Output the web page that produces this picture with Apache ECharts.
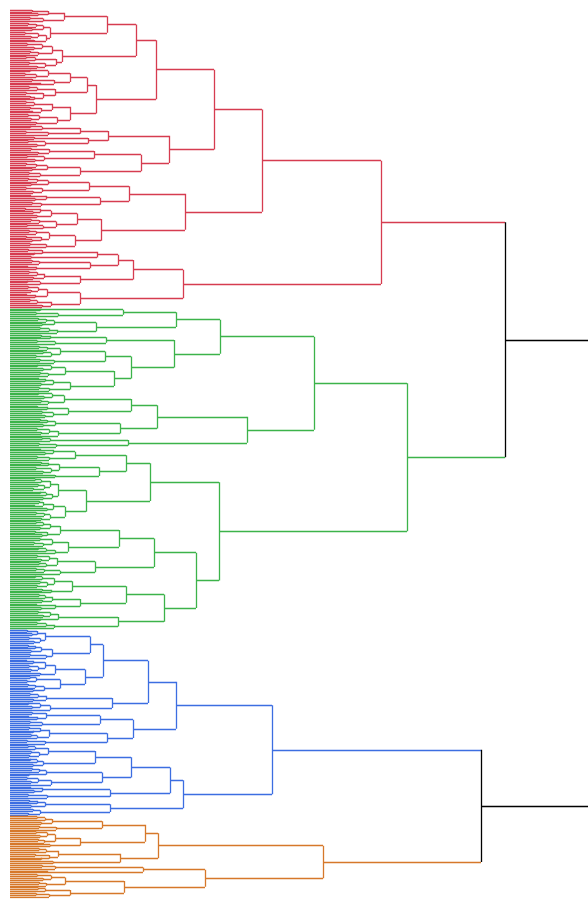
<!DOCTYPE html>
<html>
<head>
<meta charset="utf-8">
<style>html,body{margin:0;padding:0;background:#fff}#c{width:588px;height:899px}</style>
</head>
<body>
<div id="c"></div>
<script src="https://cdn.jsdelivr.net/npm/echarts@6/dist/echarts.min.js"></script>
<script>
// Cluster colours (red, green, blue, orange) and colour of links above the threshold
const CLUSTER_COLORS = ['#d63c50', '#3cb34a', '#3c6ee1', '#d6782a'];
const LINK_COLOR = '#000000';

// Sub-trees in a Newick-like form: "." is a leaf, "(a,b)h" merges a and b at distance h
const RED_TREE = [
  "((((((",
  "(((.,.)22,(.,.)28)38,((.,.)20,.)33)54", ",",
  "((((.,.)18,.)26,(.,.)22)33,(((.,.)15,(.,.)21)28,(.,.)24)36)40", ")97,",
  "((((.,.)17,(.,.)24)32,((.,.)20,.)28)42,(((.,.)16,.)25,((.,.)19,(.,.)27)35)46)52", ")126,((",
  "(((.,.)20,((.,.)15,.)26)38,((.,.)22,(.,.)30)44)60", ",",
  "(((.,.)19,.)27,((.,.)16,((.,.)20,.)24)33)45", ")77,",
  "((((.,.)16,.)24,((.,.)20,(.,.)22)31)42,(((.,.)18,(.,.)21)29,(.,.)26)47)60", ")86)146,(",
  "((((.,.)20,.)32,((.,.)16,.)38)70,((.,.)24,((.,.)18,(.,.)27)35)78)98", ",",
  "((((.,.)21,(.,.)28)39,((.,.)17,(.,.)25)34)84,((((.,.)16,.)26,(.,.)22)37,((.,.)19,.)30)70)131", ")159)204,(",
  "(((((.,.)18,.)27,(.,.)21)38,((.,.)16,(.,.)23)32)79,(((.,.)20,(.,.)25)36,((.,.)22,.)31)90)119", ",",
  "(((((.,.)15,(.,.)23)30,(.,.)27)41,(((.,.)21,.)29,((.,.)17,.)33)46)67,((((.,.)19,.)26,((.,.)16,(.,.)22)31)39,((.,.)20,.)36)65)91", ")175)252,(((",
  "(((.,.)18,(.,.)24)32,(.,.)21)87", ",",
  "(((.,.)22,.)29,((.,.)17,.)26)80", ")108,",
  "((((.,.)19,.)27,(.,.)23)34,((.,.)17,.)30)70", ")123,",
  "((((.,.)18,(.,.)21)28,((.,.)16,.)25)37,(((.,.)20,.)27,(.,.)32)41)70", ")173)371"
].join('');

const GREEN_TREE = [
  "((((",
  "((.,.)30,((.,.)26,.)48)113", ",",
  "((((.,.)28,.)36,(.,.)32)44,(((.,.)30,.)39,.)47)86", ")166,(",
  "(((.,.)31,.)40,((.,.)27,.)45)96", ",(",
  "((((.,.)29,.)37,((.,.)33,(.,.)26)41)50,((.,.)30,.)44)95", ",",
  "((((.,.)27,(.,.)33)41,((.,.)30,.)38)55,((((.,.)28,.)35,(.,.)31)43,((.,.)29,.)39)60)104", ")121)164)210,((",
  "((((.,.)28,(.,.)34)42,((.,.)31,.)38)54,(((.,.)27,.)37,((.,.)32,(.,.)35)43)58)121", ",",
  "((((.,.)30,.)37,(.,.)33)45,(((.,.)27,(.,.)31)39,.)48)110", ")147,",
  "(((.,.)32,.)40,((.,.)29,.)46)118", ")237)304,(((",
  "(((.,.)30,(.,.)35)43,((.,.)27,.)39)65", ",",
  "((((.,.)31,.)38,((.,.)26,(.,.)33)41)49,(.,.)45)89", ")116,(",
  "((((.,.)25,.)31,((.,.)28,(.,.)23)34)40,(((.,.)30,.)36,(.,.)33)42)48", ",",
  "((((.,.)29,(.,.)24)33,(.,.)37)43,(((.,.)26,.)34,(.,.)31)40)55", ")76)140,(((",
  "((((.,.)26,.)33,(.,.)30)40,((.,.)25,(.,.)32)37)50", ",",
  "(((.,.)30,((.,.)24,.)33)42,(((.,.)28,.)36,.)45)58", ")109,",
  "((((.,.)27,(.,.)31)39,((.,.)29,.)36)47,(((.,.)26,.)34,.)50)85", ")144,((",
  "((((.,.)25,.)32,((.,.)30,(.,.)27)37)44,((.,.)32,.)41)62", ",",
  "((((.,.)29,.)35,(.,.)32)42,((.,.)26,(.,.)31)45)70", ")116,",
  "((((.,.)28,(.,.)33)40,(.,.)30)48,(((.,.)27,.)36,.)44)108", ")154)186)209)397"
].join('');

const BLUE_TREE = [
  "(((((",
  "(((.,.)17,(.,.)22)27,((.,.)19,(.,.)24)30)35", ",",
  "((((.,.)18,.)25,(.,.)21)31,((.,.)20,.)36)42", ")80,(",
  "((((.,.)16,.)23,((.,.)19,(.,.)21)28)35,(.,.)30)45", ",",
  "(((.,.)20,(.,.)17)26,(((.,.)18,.)25,(.,.)23)34)50", ")75)93,",
  "((((.,.)20,.)28,(.,.)23)36,(((.,.)18,(.,.)22)30,.)40)102", ")138,(",
  "(((.,.)22,((.,.)18,.)27)36,((.,.)20,.)32)90", ",",
  "((((.,.)19,(.,.)23)30,((.,.)21,.)27)39,((.,.)17,.)35)97", ")123)166,(((",
  "((((.,.)18,.)25,((.,.)21,(.,.)19)29)38,(((.,.)20,.)27,(.,.)23)33)85", ",",
  "((((.,.)22,.)29,(.,.)19)36,(((.,.)17,(.,.)21)28,.)41)92", ")121,",
  "(((.,.)20,(.,.)24)32,((.,.)18,.)37)100", ")160,",
  "((((.,.)19,.)27,(.,.)21)35,((.,.)23,(.,.)18)30)100", ")173)262"
].join('');

const ORANGE_TREE = [
  "(((",
  "((((.,.)27,.)35,(.,.)31)42,((.,.)29,.)46)92", ",",
  "((((.,.)26,(.,.)30)37,((.,.)28,.)34)45,(.,.)40)70", ")135,",
  "((((.,.)29,.)36,((.,.)25,(.,.)31)39)48,(.,.)43)110", ")148,(",
  "(((.,.)32,.)45,(.,.)37)133", ",(",
  "(((.,.)27,(.,.)33)41,((.,.)29,.)36)55", ",",
  "(((.,.)28,.)35,((.,.)26,.)39)60", ")114)195)313"
].join('');

// Merge distances above the colour threshold
const UPPER_MERGE = 495;   // red + green
const LOWER_MERGE = 471;   // blue + orange
const ROOT_MERGE = 640;    // root (beyond the visible range)
const X_VISIBLE_MAX = 578;

function parseTree(s) {
  let i = 0;
  function node() {
    if (s[i] === '.') { i++; return { h: 0, children: null }; }
    i++; // (
    const a = node();
    i++; // ,
    const b = node();
    i++; // )
    let n = '';
    while (i < s.length && s[i] >= '0' && s[i] <= '9') n += s[i++];
    return { h: +n, children: [a, b] };
  }
  return node();
}
function paint(n, color) {
  n.color = color;
  if (n.children) n.children.forEach(c => paint(c, color));
}

const clusters = [RED_TREE, GREEN_TREE, BLUE_TREE, ORANGE_TREE].map((s, k) => {
  const t = parseTree(s); paint(t, CLUSTER_COLORS[k]); return t;
});
const root = {
  h: ROOT_MERGE, color: LINK_COLOR, children: [
    { h: UPPER_MERGE, color: LINK_COLOR, children: [clusters[0], clusters[1]] },
    { h: LOWER_MERGE, color: LINK_COLOR, children: [clusters[2], clusters[3]] }
  ]
};

let leafCount = 0;
function place(n) {
  if (!n.children) { n.y = 5 + 10 * leafCount++; return; }
  n.children.forEach(place);
  n.y = (n.children[0].y + n.children[1].y) / 2;
}
place(root);

const segs = [];
function collect(n) {
  if (!n.children) return;
  const [a, b] = n.children;
  segs.push({ coords: [[a.h, a.y], [n.h, a.y]], lineStyle: { color: a.color } });
  segs.push({ coords: [[b.h, b.y], [n.h, b.y]], lineStyle: { color: b.color } });
  segs.push({ coords: [[n.h, a.y], [n.h, b.y]], lineStyle: { color: n.color } });
  collect(a); collect(b);
}
collect(root);

// first leaf at y=10 px, last leaf at y=897 px
const pxPerUnit = 887 / (10 * (leafCount - 1));
const gridTop = 10 - 5 * pxPerUnit;
const gridBottom = 899 - (897 + 5 * pxPerUnit);

const chart = echarts.init(document.getElementById('c'), null, { renderer: 'canvas' });
chart.setOption({
  animation: false,
  grid: { left: 10, right: 0, top: gridTop, bottom: gridBottom },
  xAxis: { type: 'value', min: 0, max: X_VISIBLE_MAX, show: false },
  yAxis: { type: 'value', min: 0, max: 10 * leafCount, inverse: true, show: false },
  series: [{
    type: 'lines',
    coordinateSystem: 'cartesian2d',
    polyline: false,
    clip: true,
    silent: true,
    lineStyle: { width: 1.3, opacity: 1 },
    data: segs
  }]
});
</script>
</body>
</html>
